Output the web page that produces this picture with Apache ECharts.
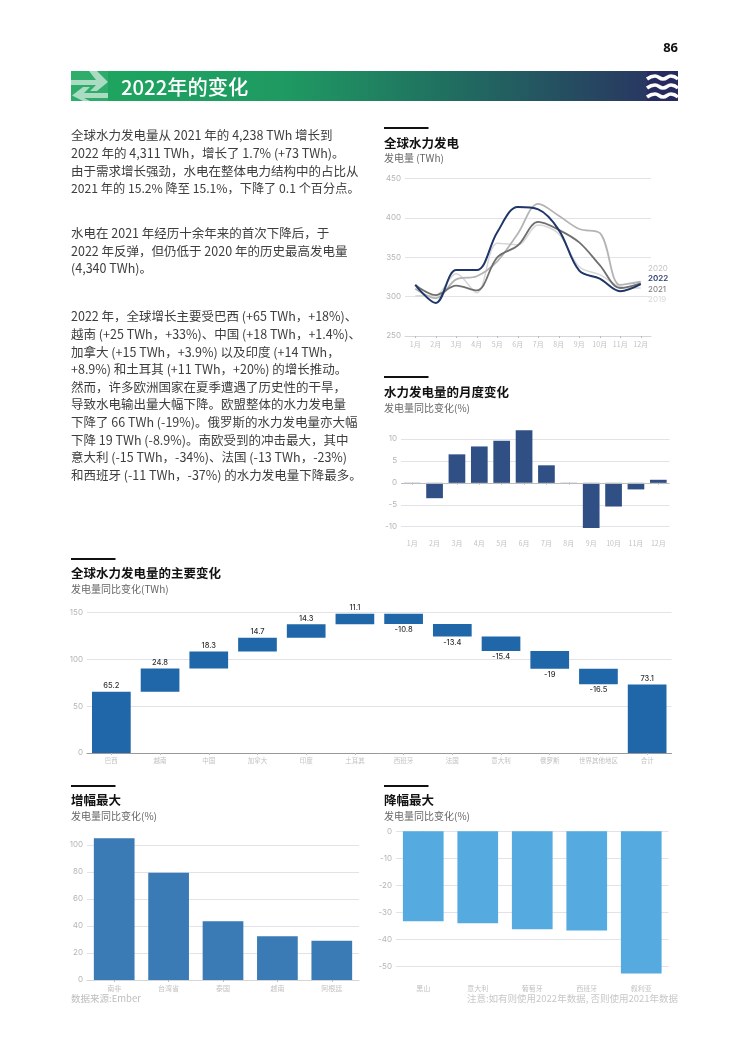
<!DOCTYPE html>
<html><head><meta charset="utf-8">
<style>html,body{margin:0;padding:0;background:#fff}#c{width:750px;height:1061px}</style>
<script src="https://cdn.jsdelivr.net/npm/echarts@6/dist/echarts.min.js"></script>
</head><body><div id="c"></div>
<script>
const months = ['1月','2月','3月','4月','5月','6月','7月','8月','9月','10月','11月','12月'];
const gen2022 = [315,292,334,334,382,414,411,385,333,323,307,316];
const gen2021 = [315,302,314,308,350,365,395,385,369,340,311,317];
const gen2020 = [310,298,322,326,345,380,418,403,386,381,315,319];
const gen2019 = [301,302,329,305,368,366,391,380,338,328,313,311];
const monthlyChange = [-0.1,-3.5,6.5,8.3,9.6,12,4,-0.2,-10.3,-5.4,-1.5,0.7];
const wfCats = ['巴西','越南','中国','加拿大','印度','土耳其','西班牙','法国','意大利','俄罗斯','世界其他地区','合计'];
const wfDeltas = [65.2,24.8,18.3,14.7,14.3,11.1,-10.8,-13.4,-15.4,-19,-16.5,73.1];
const riseCats = ['南非','台湾省','泰国','越南','阿根廷'];
const riseVals = [105,79.5,43.5,32.5,29];
const fallCats = ['黑山','意大利','葡萄牙','西班牙','叙利亚'];
const fallVals = [-33.2,-34,-36.2,-36.6,-52.5];
const para = [
 [135,'全球水力发电量从 2021 年的 4,238 TWh 增长到'],
 [153,'2022 年的 4,311 TWh，增长了 1.7% (+73 TWh)。'],
 [171,'由于需求增长强劲，水电在整体电力结构中的占比从'],
 [188.5,'2021 年的 15.2% 降至 15.1%，下降了 0.1 个百分点。',12.2],
 [233,'水电在 2021 年经历十余年来的首次下降后，于'],
 [251.5,'2022 年反弹，但仍低于 2020 年的历史最高发电量'],
 [268.5,'(4,340 TWh)。'],
 [316.5,'2022 年，全球增长主要受巴西 (+65 TWh，+18%)、'],
 [334.5,'越南 (+25 TWh，+33%)、中国 (+18 TWh，+1.4%)、'],
 [352,'加拿大 (+15 TWh，+3.9%) 以及印度 (+14 TWh，'],
 [369.5,'+8.9%) 和土耳其 (+11 TWh，+20%) 的增长推动。'],
 [387,'然而，许多欧洲国家在夏季遭遇了历史性的干旱，'],
 [404.5,'导致水电输出量大幅下降。欧盟整体的水力发电量'],
 [422,'下降了 66 TWh (-19%)。俄罗斯的水力发电量亦大幅'],
 [440,'下降 19 TWh (-8.9%)。南欧受到的冲击最大，其中'],
 [457.5,'意大利 (-15 TWh，-34%)、法国 (-13 TWh，-23%)'],
 [475.5,'和西班牙 (-11 TWh，-37%) 的水力发电量下降最多。']
];
const heads = [
 [384,128,143,158,'全球水力发电','发电量 (TWh)'],
 [384,377,392,408,'水力发电量的月度变化','发电量同比变化(%)'],
 [71,559,573,589,'全球水力发电量的主要变化','发电量同比变化(TWh)'],
 [71,786,800,816,'增幅最大','发电量同比变化(%)'],
 [384,786,800,816,'降幅最大','发电量同比变化(%)']
];
const lineLabels = [['2020',269,'#c4c4c8',400],['2022',279,'#2a3f72',600],['2021',290,'#777',400],['2019',300,'#d8d8d8',400]];

const CJK = '"Noto Sans CJK SC","Noto Sans",sans-serif';
const NUM = 'Inter,"Noto Sans CJK SC",sans-serif';
const T = (x,y,text,size,fill,weight,align,family)=>({type:'text',x,y,silent:true,style:{text,fontSize:size,fill,fontWeight:weight||400,fontFamily:family||CJK,align:align||'left',verticalAlign:'middle'}});
const g = [];
g.push({type:'rect',shape:{x:71,y:71,width:607,height:30},style:{fill:{type:'linear',x:0,y:0,x2:1,y2:0,colorStops:[{offset:0,color:'#1ea65f'},{offset:.35,color:'#1f9a62'},{offset:.62,color:'#206f60'},{offset:1,color:'#2a2f62'}]}}});
g.push({type:'rect',shape:{x:71,y:71,width:37,height:30},style:{fill:'rgba(255,255,255,0.08)'}});
g.push({type:'polygon',shape:{points:[[71,80],[96,80],[89,71],[97,71],[108,82],[97,91],[90,91],[96,85],[71,85]]},style:{fill:'#a9dcc0'}});
g.push({type:'polygon',shape:{points:[[108,93],[84,93],[90,87],[83,87],[72,95.5],[83,101],[90,101],[84,98],[108,98]]},style:{fill:'#a9dcc0'}});
g.push({type:'rect',shape:{x:647,y:71,width:31,height:30},style:{fill:'#262c5f'}});
[79,88,97].forEach(y=>g.push({type:'polyline',shape:{points:[[647,y],[655,y-3],[663,y],[671,y-3],[678,y]],smooth:.5},style:{stroke:'#fff',lineWidth:3.5,fill:null}}));
g.push(T(121,87,'2022年的变化',20.3,'#fff',500));
g.push(T(678,48,'86',13,'#111',700,'right','"Noto Sans",sans-serif'));
para.forEach(p=>g.push(T(71,p[0],p[1],p[2]||12.5,'#3d3d3d')));
heads.forEach(h=>{
 g.push({type:'rect',shape:{x:h[0],y:h[1]-1,width:44.5,height:2},style:{fill:'#111'}});
 g.push(T(h[0],h[2],h[4],12.5,'#111',700));
 g.push(T(h[0],h[3],h[5],10,'#666'));
});
lineLabels.forEach(l=>g.push(T(648,l[1],l[0],8,l[2],l[3],'left',NUM)));
g.push(T(71,998,'数据来源:Ember',9.5,'#bdbdbd'));
g.push(T(678,998,'注意:如有则使用2022年数据, 否则使用2021年数据',9.5,'#c8c8c8',400,'right'));

const rects = (l,t,r,b)=>({left:l,top:t,width:r-l,height:b-t,containLabel:false});
const grids = [rects(405,178.7,651,336),rects(401,439,669.5,526.7),rects(87,612.3,671.5,753),rects(87,845,359,980),rects(396,831.3,668.5,966.7)];
const xAx = (i,cats,o)=>Object.assign({type:'category',gridIndex:i,data:cats,position:'bottom',
  axisLine:{show:true,onZero:false,lineStyle:{color:'#d5d5dc'}},axisTick:{show:true,alignWithLabel:true,length:2,lineStyle:{color:'#bbb'}},
  axisLabel:{fontSize:7,color:'#c2c2c2',fontFamily:CJK,margin:5,interval:0},splitLine:{show:false}},o||{});
const yAx = (i,min,max,iv)=>({type:'value',gridIndex:i,min,max,interval:iv,
  axisLine:{show:false},axisTick:{show:false},
  axisLabel:{fontSize:8,color:'#b5b5b5',fontFamily:NUM,margin:4},splitLine:{lineStyle:{color:'#e2e2e8',width:1}}});
const xAxis = [
  xAx(0,months),
  xAx(1,months,{offset:8,axisLine:{show:false}}),
  xAx(2,wfCats,{axisLine:{show:true,onZero:false,lineStyle:{color:'#999'}},axisLabel:{fontSize:6.5,color:'#c2c2c2',fontFamily:CJK,margin:4,interval:0}}),
  xAx(3,riseCats,{axisLine:{show:true,onZero:false,lineStyle:{color:'#d5d5d5'}}}),
  xAx(4,fallCats,{offset:13,axisLine:{show:false}})
];
const yAxis = [yAx(0,250,450,50),yAx(1,-10,10,5),yAx(2,0,150,50),yAx(3,0,100,20),yAx(4,-50,0,10)];
const lineS = (name,data,color,w,z)=>({type:'line',name,xAxisIndex:0,yAxisIndex:0,data,smooth:.35,showSymbol:false,z,lineStyle:{color,width:w}});

// waterfall: floating bars built from the deltas
let run=0; const wfBase=[],wfBar=[];
wfDeltas.forEach((d,i)=>{
  if(i===wfDeltas.length-1){wfBase.push(0);wfBar.push({value:d,label:{position:'top'}});return;}
  const next=run+d; wfBase.push(Math.min(run,next));
  wfBar.push({value:Math.abs(d),label:{position:d<0?'bottom':'top'}}); run=next;
});

const chart = echarts.init(document.getElementById('c'),null,{renderer:'canvas',width:750,height:1061});
chart.setOption({animation:false,backgroundColor:'#fff',grid:grids,xAxis,yAxis,graphic:{elements:g},series:[
  lineS('2019',gen2019,'#d6d6d6',1.5,2),
  lineS('2020',gen2020,'#b4b4b4',1.8,3),
  lineS('2021',gen2021,'#6f6f6f',1.8,4),
  lineS('2022',gen2022,'#1f3669',2,5),
  {type:'bar',xAxisIndex:1,yAxisIndex:1,data:monthlyChange,barWidth:16.7,clip:false,itemStyle:{color:'#2f4f85'},
    markLine:{silent:true,symbol:'none',label:{show:false},lineStyle:{color:'#bdbdbd',type:'solid',width:1},data:[{yAxis:0}]}},
  {type:'bar',xAxisIndex:2,yAxisIndex:2,stack:'wf',data:wfBase,barWidth:38.7,itemStyle:{color:'transparent'}},
  {type:'bar',xAxisIndex:2,yAxisIndex:2,stack:'wf',data:wfBar,barWidth:38.7,itemStyle:{color:'#1f67a8'},
    label:{show:true,fontSize:7.5,fontWeight:500,color:'#333',fontFamily:NUM,distance:2,formatter:p=>String(wfDeltas[p.dataIndex])}},
  {type:'bar',xAxisIndex:3,yAxisIndex:3,data:riseVals,barWidth:40.7,clip:false,itemStyle:{color:'#3a7ab5'}},
  {type:'bar',xAxisIndex:4,yAxisIndex:4,data:fallVals,barWidth:40.7,clip:false,itemStyle:{color:'#55aadf'}}
]});
</script></body></html>
